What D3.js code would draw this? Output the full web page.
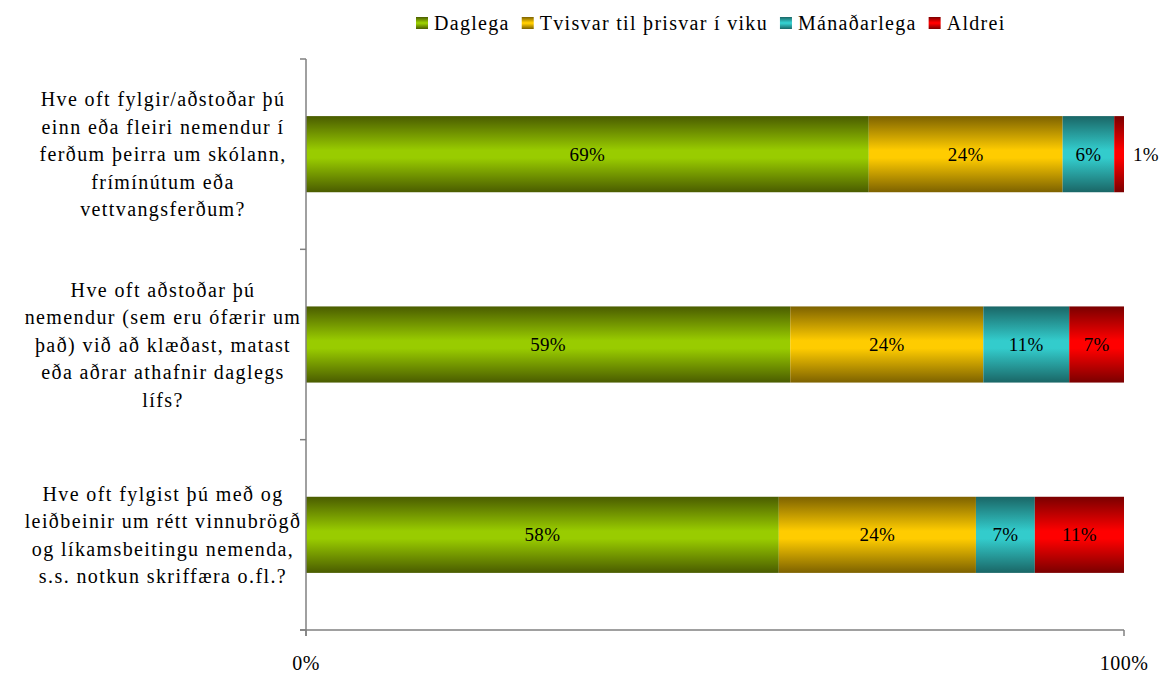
<!DOCTYPE html>
<html>
<head>
<meta charset="utf-8">
<script src="https://cdn.jsdelivr.net/npm/d3@7"></script>
<style>
  body { margin: 0; background: #fff; }
</style>
</head>
<body>
<svg id="chart" width="1162" height="675"></svg>
<script>
// categories, one array of wrapped lines each
const categories = [
	[ 'Hve oft fylgir/aðstoðar þú', 'einn eða fleiri nemendur í', 'ferðum þeirra um skólann,', 'frímínútum eða', 'vettvangsferðum?' ],
	[ 'Hve oft aðstoðar þú', 'nemendur (sem eru ófærir um', 'það) við að klæðast, matast', 'eða aðrar athafnir daglegs', 'lífs?' ],
	[ 'Hve oft fylgist þú með og', 'leiðbeinir um rétt vinnubrögð', 'og líkamsbeitingu nemenda,', 's.s. notkun skriffæra o.fl.?' ],
];
const seriesNames = [ 'Daglega', 'Tvisvar til þrisvar í viku', 'Mánaðarlega', 'Aldrei' ];
const daglega = [ 68.8, 59.2, 57.8 ];
const tvisvar = [ 23.7, 23.6, 24.1 ];
const manadarlega = [ 6.3, 10.5, 7.2 ];
const aldrei = [ 1.2, 6.7, 10.9 ];
const xTicks = [ 0, 100 ];

const colors = [
	{ mid: '#99cc00', edge: '#4a5c00' },
	{ mid: '#ffcc00', edge: '#7d6200' },
	{ mid: '#33cccc', edge: '#1a6666' },
	{ mid: '#ff0000', edge: '#7a0000' },
];

const FONT = 'Liberation Serif';
const margin = { top: 59, left: 306, right: 38, bottom: 45 };
const width = 1162, height = 675;

const svg = d3.select( '#chart' );

// gradients: dark edges, bright middle
const defs = svg.append( 'defs' );
colors.forEach( ( c, i ) => {
	const g = defs.append( 'linearGradient' )
		.attr( 'id', 'grad' + i )
		.attr( 'x1', 0 ).attr( 'y1', 0 ).attr( 'x2', 0 ).attr( 'y2', 1 );
	g.append( 'stop' ).attr( 'offset', '0%' ).attr( 'stop-color', c.edge );
	g.append( 'stop' ).attr( 'offset', '45%' ).attr( 'stop-color', c.mid );
	g.append( 'stop' ).attr( 'offset', '55%' ).attr( 'stop-color', c.mid );
	g.append( 'stop' ).attr( 'offset', '100%' ).attr( 'stop-color', c.edge );
} );

const rows = categories.map( ( c, i ) => ( {
	idx: i,
	values: [ daglega[ i ], tvisvar[ i ], manadarlega[ i ], aldrei[ i ] ],
} ) );

const x = d3.scaleLinear()
	.domain( [ 0, 100 ] )
	.range( [ margin.left, width - margin.right ] );

const y = d3.scaleBand()
	.domain( d3.range( categories.length ) )
	.range( [ margin.top, height - margin.bottom ] )
	.paddingInner( 0.6 )
	.paddingOuter( 0.3 );

// bars
rows.forEach( ( row ) => {
	let acc = 0;
	row.values.forEach( ( v, s ) => {
		const x0 = acc;
		acc += v;
		const bx = x( x0 ), bw = x( acc ) - x( x0 );
		svg.append( 'rect' )
			.attr( 'x', bx )
			.attr( 'y', y( row.idx ) )
			.attr( 'width', bw )
			.attr( 'height', y.bandwidth() )
			.attr( 'fill', `url(#grad${ s })` );

		const inside = bw > 25;
		svg.append( 'text' )
			.attr( 'x', inside ? bx + bw / 2 : x( acc ) + 9 )
			.attr( 'y', y( row.idx ) + y.bandwidth() / 2 )
			.attr( 'dy', '0.35em' )
			.attr( 'text-anchor', inside ? 'middle' : 'start' )
			.attr( 'font-family', FONT )
			.attr( 'font-size', 19 )
			.attr( 'letter-spacing', 0.3 )
			.attr( 'fill', '#000' )
			.text( Math.round( v ) + '%' );
	} );
} );

// axes
const axisColor = '#808080';
const step = y.step();
const yTop = y.range()[ 0 ], yBottom = y.range()[ 1 ];

svg.append( 'line' )
	.attr( 'x1', x( 0 ) ).attr( 'x2', x( 0 ) )
	.attr( 'y1', yTop ).attr( 'y2', yBottom + 6 )
	.attr( 'stroke', axisColor ).attr( 'stroke-width', 1.5 );

svg.append( 'line' )
	.attr( 'x1', x( 0 ) - 6 ).attr( 'x2', x( 100 ) )
	.attr( 'y1', yBottom ).attr( 'y2', yBottom )
	.attr( 'stroke', axisColor ).attr( 'stroke-width', 1.5 );

// category boundary ticks
d3.range( categories.length + 1 ).forEach( ( i ) => {
	const ty = yTop + i * step;
	svg.append( 'line' )
		.attr( 'x1', x( 0 ) - 6 ).attr( 'x2', x( 0 ) )
		.attr( 'y1', ty ).attr( 'y2', ty )
		.attr( 'stroke', axisColor ).attr( 'stroke-width', 1.5 );
} );

xTicks.forEach( ( t ) => {
	svg.append( 'line' )
		.attr( 'x1', x( t ) ).attr( 'x2', x( t ) )
		.attr( 'y1', yBottom ).attr( 'y2', yBottom + 6 )
		.attr( 'stroke', axisColor ).attr( 'stroke-width', 1.5 );
	svg.append( 'text' )
		.attr( 'x', x( t ) )
		.attr( 'y', yBottom + 40 )
		.attr( 'text-anchor', 'middle' )
		.attr( 'font-family', FONT )
		.attr( 'font-size', 20 )
		.attr( 'letter-spacing', 0.5 )
		.attr( 'fill', '#000' )
		.text( t + '%' );
} );

// category labels
const lineH = 27.5;
categories.forEach( ( lines, i ) => {
	const cy = y( i ) + y.bandwidth() / 2;
	const t = svg.append( 'text' )
		.attr( 'text-anchor', 'middle' )
		.attr( 'font-family', FONT )
		.attr( 'font-size', 20 )
		.attr( 'letter-spacing', 1.4 )
		.attr( 'fill', '#000' );
	lines.forEach( ( l, j ) => {
		t.append( 'tspan' )
			.attr( 'x', 163 )
			.attr( 'y', cy + ( j - ( lines.length - 1 ) / 2 ) * lineH )
			.attr( 'dy', '0.35em' )
			.text( l );
	} );
} );

// legend
const legend = svg.append( 'g' ).attr( 'transform', 'translate(416,23)' );
let lx = 0;
seriesNames.forEach( ( name, i ) => {
	const g = legend.append( 'g' ).attr( 'transform', `translate(${ lx },0)` );
	g.append( 'rect' )
		.attr( 'x', 0 ).attr( 'y', -6 )
		.attr( 'width', 12 ).attr( 'height', 12 )
		.attr( 'fill', `url(#grad${ i })` );
	const txt = g.append( 'text' )
		.attr( 'x', 18 )
		.attr( 'dy', '0.33em' )
		.attr( 'font-family', FONT )
		.attr( 'font-size', 20 )
		.attr( 'letter-spacing', 1.3 )
		.attr( 'fill', '#000' )
		.text( name );
	lx += 18 + txt.node().getComputedTextLength() + 12;
} );
</script>
</body>
</html>
